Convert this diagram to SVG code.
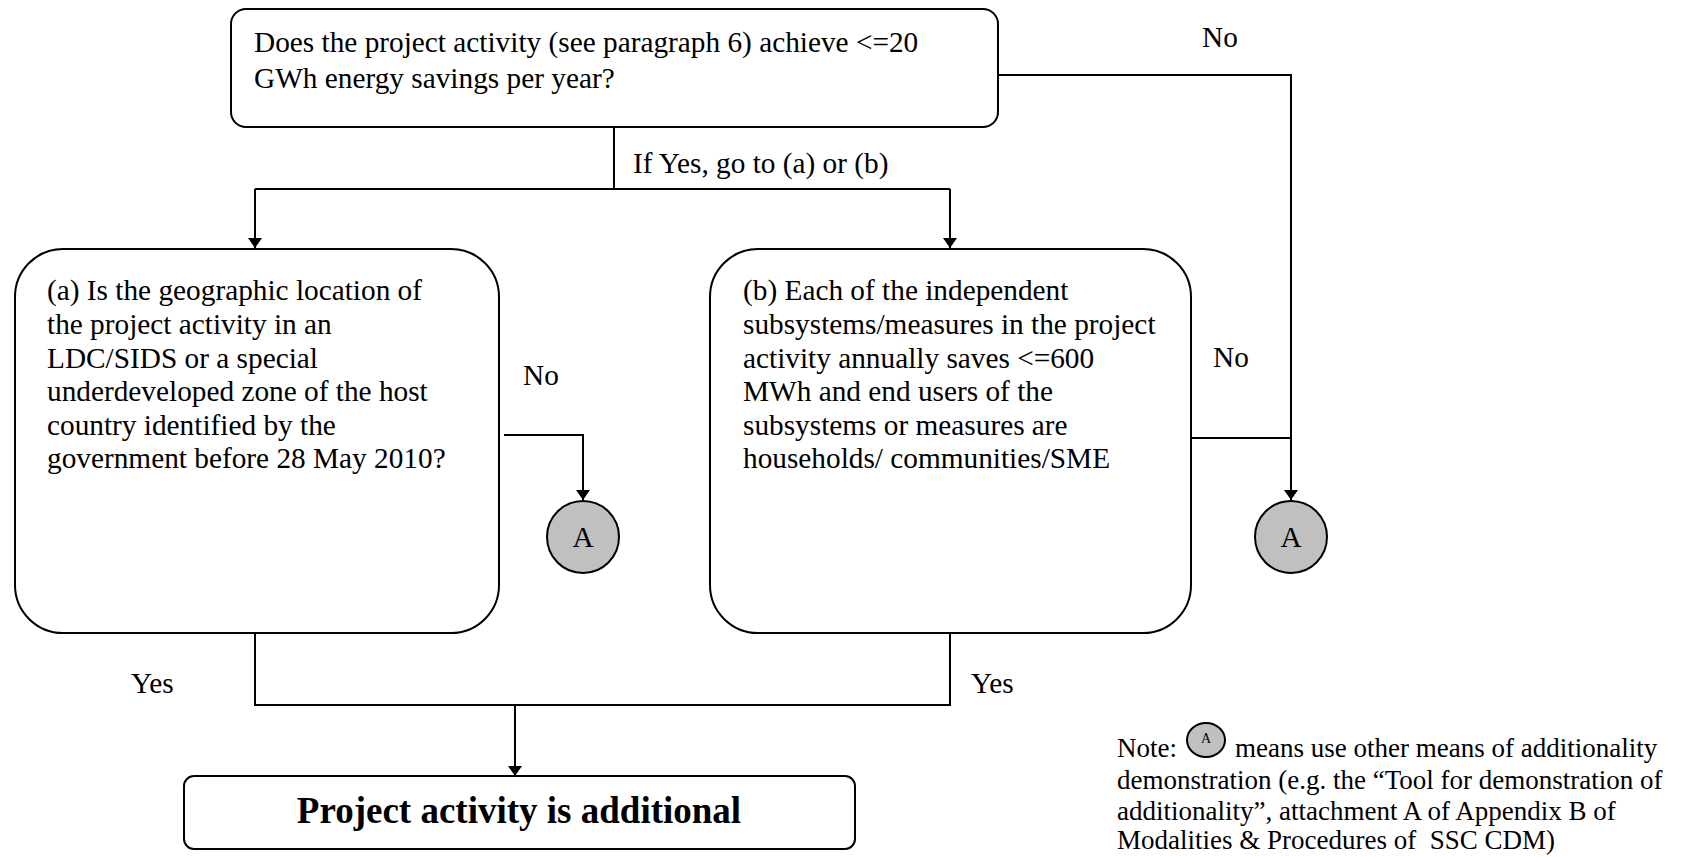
<svg xmlns="http://www.w3.org/2000/svg" width="1683" height="857" viewBox="0 0 1683 857">
<defs>
<style>
.box{fill:#fff;stroke:#000;stroke-width:2}
.ln{fill:none;stroke:#000;stroke-width:2}
.t{font-family:"Liberation Serif","Times New Roman",serif;font-size:29.3px;fill:#000}
.n{font-family:"Liberation Serif","Times New Roman",serif;font-size:27px;fill:#000}
.b{font-family:"Liberation Serif","Times New Roman",serif;font-size:37px;font-weight:bold;fill:#000}
.circ{fill:#c0c0c0;stroke:#000;stroke-width:2}
</style>
<marker id="arr" markerWidth="10" markerHeight="14" refX="10" refY="7" orient="auto" markerUnits="userSpaceOnUse">
<path d="M0,0 L10,7 L0,14 Z" fill="#000"/>
</marker>
</defs>
<rect width="1683" height="857" fill="#fff"/>
<g id="connectors">
<polyline class="ln" points="614,127 614,189"/>
<polyline class="ln" points="255,189 950,189"/>
<polyline class="ln" points="255,189 255,248" marker-end="url(#arr)"/>
<polyline class="ln" points="950,189 950,248" marker-end="url(#arr)"/>
<polyline class="ln" points="998,75 1291,75 1291,500" marker-end="url(#arr)"/>
<polyline class="ln" points="1187,438 1291,438"/>
<polyline class="ln" points="504,435 583,435 583,500" marker-end="url(#arr)"/>
<polyline class="ln" points="255,633 255,705 950,705 950,633"/>
<polyline class="ln" points="515,705 515,776" marker-end="url(#arr)"/>
<text class="t" x="633" y="173">If Yes, go to (a) or (b)</text>
<text class="t" x="1202" y="47">No</text>
<text class="t" x="1213" y="367">No</text>
<text class="t" x="523" y="385">No</text>
<text class="t" x="131" y="693">Yes</text>
<text class="t" x="971" y="693">Yes</text>
</g>
<g id="q0">
<rect class="box" x="231" y="9" width="767" height="118" rx="15"/>
<text class="t"><tspan x="254" y="52">Does the project activity (see paragraph 6) achieve &lt;=20</tspan><tspan x="254" y="88">GWh energy savings per year?</tspan></text>
</g>
<g id="qa">
<rect class="box" x="15" y="249" width="484" height="384" rx="48"/>
<text class="t"><tspan x="47" y="300">(a) Is the geographic location of</tspan><tspan x="47" y="334">the project activity in an</tspan><tspan x="47" y="368">LDC/SIDS or a special</tspan><tspan x="47" y="401">underdeveloped zone of the host</tspan><tspan x="47" y="435">country identified by the</tspan><tspan x="47" y="468">government before 28 May 2010?</tspan></text>
</g>
<g id="qb">
<rect class="box" x="710" y="249" width="481" height="384" rx="48"/>
<text class="t"><tspan x="743" y="300">(b) Each of the independent</tspan><tspan x="743" y="334">subsystems/measures in the project</tspan><tspan x="743" y="368">activity annually saves &lt;=600</tspan><tspan x="743" y="401">MWh and end users of the</tspan><tspan x="743" y="435">subsystems or measures are</tspan><tspan x="743" y="468">households/ communities/SME</tspan></text>
</g>
<g id="a1">
<circle class="circ" cx="583" cy="537" r="36"/>
<text class="t" x="583" y="547" text-anchor="middle">A</text>
</g>
<g id="a2">
<circle class="circ" cx="1291" cy="537" r="36"/>
<text class="t" x="1291" y="547" text-anchor="middle">A</text>
</g>
<g id="result">
<rect class="box" x="184" y="776" width="671" height="73" rx="10"/>
<text class="b" x="519" y="823" text-anchor="middle">Project activity is additional</text>
</g>
<g id="note">
<text class="n"><tspan x="1117" y="757">Note:</tspan><tspan x="1235" y="757">means use other means of additionality</tspan><tspan x="1117" y="789">demonstration (e.g. the “Tool for demonstration of</tspan><tspan x="1117" y="820">additionality”, attachment A of Appendix B of</tspan><tspan x="1117" y="849">Modalities &amp; Procedures of&#160; SSC CDM)</tspan></text>
<ellipse class="circ" cx="1206" cy="740" rx="19" ry="17" stroke-width="1.5"/>
<text x="1206" y="743" text-anchor="middle" font-family="Liberation Serif, serif" font-size="14">A</text>
</g>
</svg>
